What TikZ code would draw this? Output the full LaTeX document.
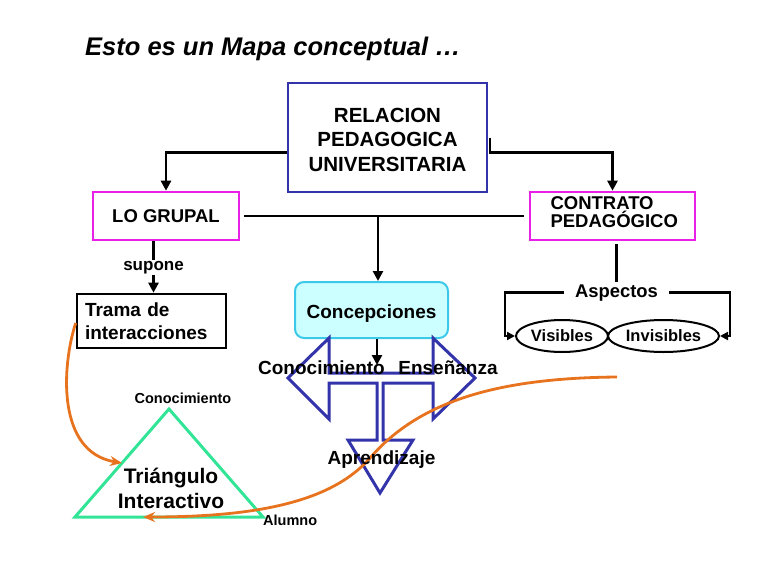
\documentclass[tikz,border=0pt]{standalone}
\usepackage{fontspec}
\setmainfont{Liberation Sans}
\usetikzlibrary{shapes.geometric,arrows.meta,calc}
\definecolor{relblue}{RGB}{51,51,170}
\definecolor{magbox}{RGB}{232,32,232}
\definecolor{concfill}{RGB}{204,255,255}
\definecolor{concdraw}{RGB}{60,200,232}
\definecolor{trigreen}{RGB}{50,228,150}
\definecolor{orangec}{RGB}{232,115,31}
\newcommand{\fsz}[2]{\fontsize{#1}{#2}\selectfont}
\begin{document}
\begin{tikzpicture}[x=1pt,y=-1pt,
  conn/.style={line width=2.6pt, draw=black},
  arr/.style={-{Triangle[length=10pt,width=10pt]}},
  arrsmall/.style={-{Triangle[length=8pt,width=8pt]}},
  orarr/.style={draw=orangec, line width=2.8pt, -{Stealth[length=12pt,width=10pt]}},
  boxline/.style={line width=2.6pt},
  txt/.style={font=\bfseries\fsz{19}{22}, inner sep=1pt},
  smalltxt/.style={font=\bfseries\fsz{14.5}{16}, inner sep=0pt}
]
\useasboundingbox (0,0) rectangle (768,576);

% title
\node[anchor=base west, inner sep=0pt, font=\bfseries\itshape\fsz{25.5}{28}] (title) at (85,55) {Esto es un Mapa conceptual …};

% boxes
\node[draw=relblue, boxline, minimum width=199pt, minimum height=109pt, align=center, inner sep=0pt,
      font=\bfseries\fsz{20.5}{24.5}] (rel) at (387.5,137.5) {\rule{0pt}{19.1pt}RELACION\\PEDAGOGICA\\UNIVERSITARIA};
\node[draw=magbox, boxline, minimum width=146pt, minimum height=48pt, inner sep=0pt,
      font=\bfseries\fsz{18.5}{20}] (grupal) at (166,216) {LO GRUPAL};
\node[draw=magbox, boxline, minimum width=165pt, minimum height=48pt, align=left, text width=124pt,
      inner xsep=20.5pt, inner ysep=0pt, font=\bfseries\fsz{18.5}{18}] (contrato) at (612.5,216) {CONTRATO\\PEDAGÓGICO\rule[-7pt]{0pt}{7pt}};
\node[draw=concdraw, fill=concfill, line width=2pt, rounded corners=9pt, minimum width=153pt, minimum height=56pt,
      inner sep=0pt, font=\bfseries\fsz{19}{22}] (conc) at (371.5,310) {\rule{0pt}{21pt}Concepciones};
\node[draw=black, boxline, minimum width=149pt, minimum height=54pt, align=left, text width=133pt,
      inner xsep=8pt, inner ysep=0pt, font=\bfseries\fsz{19}{23}] (trama) at (151.5,321) {Trama de\\interacciones};

% ellipses
\node[ellipse, draw, line width=2pt, minimum width=92pt, minimum height=32pt, inner sep=0pt,
      font=\bfseries\fsz{16.5}{18}] (vis) at (562,336) {Visibles};
\node[ellipse, draw, line width=2pt, minimum width=111pt, minimum height=32pt, inner sep=0pt,
      font=\bfseries\fsz{16.5}{18}] (invis) at (663.5,336) {Invisibles};

% triangle
\coordinate (ta) at (169,409);
\coordinate (tl) at (75,517);
\coordinate (tr) at (263,517);
\draw[trigreen, line width=3pt, line join=miter] (ta) -- (tl) -- (tr) -- cycle;

% blue three-way arrow
\draw[relblue, line width=3pt, line join=miter]
  (329,373) -- (329,338) -- (288,378) -- (329,419) -- (329,383) -- (377,383) -- (377,440)
  -- (348,440) -- (380,493) -- (413,440) -- (383,440) -- (383,383) -- (433,383) -- (433,419)
  -- (475,378) -- (433,338) -- (433,373) -- cycle;

% labels
\node[font=\bfseries\fsz{17}{19}, anchor=base, inner xsep=1pt, inner ysep=1pt] (supone) at (153.5,270) {supone};
\node[font=\bfseries\fsz{18.4}{20}, anchor=base, inner xsep=11pt, inner ysep=2pt] (asp) at (616.5,297) {Aspectos};

% connectors
\draw[conn, arr] ([yshift=-15pt]rel.west) -| (grupal.north);
\draw[conn, arr] ([xshift=1.8pt]rel.east) -- ++(0,15) -| (contrato.north);
\draw[conn, shorten <=4pt, shorten >=5pt] (grupal.east) -- (contrato.west);
\coordinate (j) at (378,216);
\draw[conn, arr] (j) -- (j |- conc.north);
\coordinate (k) at (377,365);
\draw[conn, arr] (conc.south -| k) -- (k);
\draw[conn] (grupal.south -| supone) -- (supone.north);
\draw[conn, arr] (supone.south) -- (supone |- trama.north);
\draw[conn, shorten <=3pt] (contrato.south -| asp) -- (asp.north);
\coordinate (bl) at (505,293);
\coordinate (br) at (730,293);
\draw[conn, arrsmall] (asp.west) -| (bl |- vis.west) -- (vis.west);
\draw[conn, arrsmall] (asp.east) -| (br |- invis.east) -- (invis.east);

% orange curves
\draw[orarr] ([yshift=-2pt]trama.west) .. controls (62,365) and (56,452) .. ($(ta)!0.5!(tl)$);
\coordinate (oend) at (617,377);
\draw[orarr] (oend) .. controls (500,378) and (420,400) .. (370,458)
  .. controls (330,504) and (250,517) .. ($(tl)!0.362!(tr)$);

% texts on arrows and triangle
\node[txt, anchor=base] (conoc) at (321.5,374) {Conocimiento};
\node[txt, anchor=base] (ensen) at (448,374) {Enseñanza};
\node[txt, anchor=base] (aprend) at (381.5,464) {Aprendizaje};
\node[smalltxt, anchor=base] (triconoc) at (183,403) {Conocimiento};
\node[smalltxt, anchor=base west] (alumno) at (263,525) {Alumno};
\node[font=\bfseries\fsz{21}{25}, align=center, inner sep=0pt] (trilabel) at (171,488) {Triángulo\\Interactivo};
\end{tikzpicture}
\end{document}
